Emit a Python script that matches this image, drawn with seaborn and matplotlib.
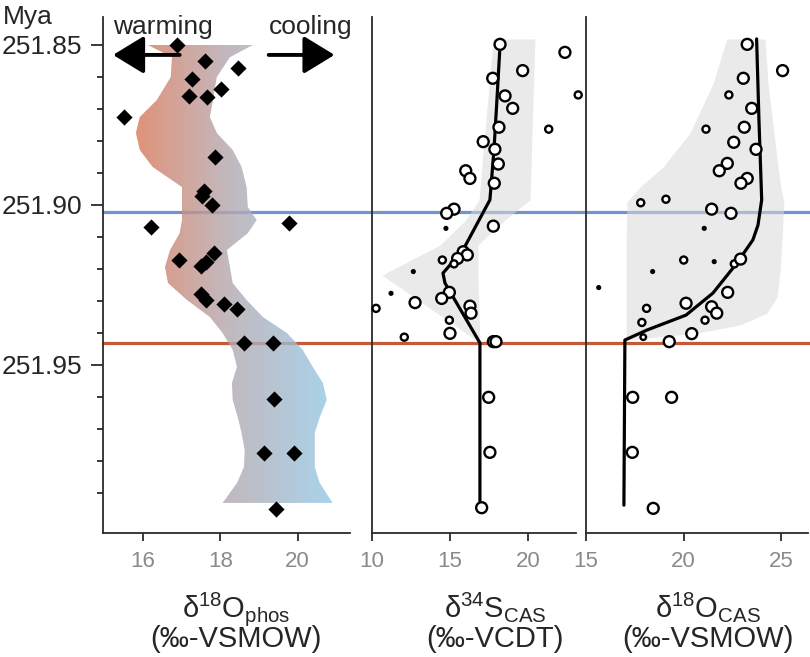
import matplotlib
matplotlib.use("Agg")
import matplotlib.pyplot as plt
import matplotlib.transforms as mtransforms
from matplotlib.colors import LinearSegmentedColormap
import numpy as np
import seaborn as sns

# ---- panel 1: d18O phosphate ----
phos_x = [16.87, 17.60, 18.46, 17.28, 18.01, 17.19, 17.66, 15.51, 17.86, 17.58, 17.53, 17.79,
          16.21, 19.77, 17.84, 16.94, 17.50, 17.63, 17.51, 17.62, 18.10, 18.43, 18.61, 19.35,
          19.39, 19.13, 19.90, 19.45]
phos_y = [251.8500, 251.8550, 251.8573, 251.8607, 251.8638, 251.8658, 251.8663, 251.8724,
          251.8851, 251.8956, 251.8972, 251.9000, 251.9070, 251.9057, 251.9149, 251.9172,
          251.9191, 251.9178, 251.9279, 251.9297, 251.9309, 251.9326, 251.9432, 251.9432,
          251.9606, 251.9776, 251.9776, 251.9950]

band1_y = [251.8500, 251.8538, 251.8600, 251.8672, 251.8725, 251.8775, 251.8828, 251.8881,
           251.8944, 251.9006, 251.9047, 251.9088, 251.9141, 251.9194, 251.9244, 251.9297,
           251.9350, 251.9400, 251.9453, 251.9506, 251.9556, 251.9609, 251.9663, 251.9713,
           251.9766, 251.9819, 251.9869, 251.9931]
band1_lo = [16.13, 16.75, 16.72, 16.36, 15.92, 15.82, 15.92, 16.25, 17.01, 17.01, 17.01, 16.95,
            16.70, 16.57, 16.65, 17.14, 17.73, 18.06, 18.32, 18.43, 18.30, 18.32, 18.45, 18.55,
            18.63, 18.61, 18.43, 18.06]
band1_hi = [18.84, 18.25, 17.91, 17.81, 17.73, 17.91, 18.32, 18.55, 18.68, 18.71, 18.94, 18.71,
            18.17, 18.25, 18.32, 18.68, 19.10, 19.72, 20.13, 20.39, 20.65, 20.75, 20.57, 20.44,
            20.44, 20.44, 20.57, 20.90]

# ---- panel 2: d34S CAS ----
s34_x = [18.21, 22.37, 19.66, 17.74, 23.22, 18.53, 19.02, 21.33, 18.14, 17.13, 17.88, 18.10,
         16.01, 16.28, 17.84, 15.26, 14.79, 14.74, 17.78, 15.85, 16.11, 15.49, 14.51, 15.26,
         12.65, 11.22, 14.96, 14.47, 12.76, 10.26, 16.28, 16.35, 14.96, 15.00, 12.07, 17.78,
         17.95, 17.48, 17.56, 17.03]
s34_y = [251.8498, 251.8523, 251.8580, 251.8604, 251.8656, 251.8659, 251.8698, 251.8763,
         251.8757, 251.8802, 251.8826, 251.8872, 251.8893, 251.8917, 251.8932, 251.9013,
         251.9026, 251.9073, 251.9066, 251.9146, 251.9156, 251.9167, 251.9172, 251.9184,
         251.9208, 251.9276, 251.9273, 251.9292, 251.9305, 251.9323, 251.9316, 251.9338,
         251.9360, 251.9401, 251.9413, 251.9427, 251.9427, 251.9601, 251.9773, 251.9946]
s34_size = [3, 3, 3, 3, 2, 3, 3, 2, 3, 3, 3, 3, 3, 3, 3, 3, 3, 0, 3, 3,
            3, 3, 2, 2, 0, 0, 3, 3, 3, 2, 3, 3, 2, 3, 2, 3, 3, 3, 3, 3]

s34_line_x = [18.21, 18.01, 17.82, 17.56, 15.83, 14.55, 14.68, 16.92, 16.92]
s34_line_y = [251.8500, 251.8672, 251.8828, 251.8984, 251.9141, 251.9213, 251.9244, 251.9431, 251.9931]

band2_y = [251.8481, 251.8984, 251.9047, 251.9125, 251.9219, 251.9431]
band2_lo = [17.76, 16.86, 16.00, 14.36, 10.64, 16.92]
band2_hi = [20.45, 20.13, 18.53, 16.79, 16.79, 16.92]

# ---- panel 3: d18O CAS ----
o18_x = [23.25, 25.06, 23.05, 22.31, 23.48, 23.10, 21.14, 22.56, 23.70, 22.23, 21.82, 23.25,
         22.93, 17.80, 19.09, 21.43, 22.42, 21.05, 15.65, 18.41, 20.00, 21.56, 22.59, 22.91,
         22.25, 20.12, 18.10, 21.43, 21.69, 17.86, 21.09, 20.41, 17.93, 19.26, 17.39, 19.38,
         17.37, 18.44]
o18_y = [251.8498, 251.8580, 251.8604, 251.8656, 251.8698, 251.8757, 251.8763, 251.8804,
         251.8826, 251.8870, 251.8893, 251.8917, 251.8932, 251.8993, 251.8982, 251.9013,
         251.9026, 251.9073, 251.9258, 251.9208, 251.9172, 251.9177, 251.9184, 251.9169,
         251.9273, 251.9307, 251.9323, 251.9318, 251.9338, 251.9367, 251.9360, 251.9402,
         251.9413, 251.9427, 251.9601, 251.9601, 251.9773, 251.9948]
o18_size = [3, 3, 3, 2, 3, 3, 2, 3, 3, 3, 3, 3, 3, 2, 2, 3, 3, 0, 0, 0,
            2, 0, 2, 3, 3, 3, 2, 3, 3, 2, 2, 3, 1, 3, 3, 3, 3, 3]

o18_line_x = [23.73, 23.85, 23.99, 23.80, 23.54, 22.73, 21.50, 20.12, 18.11, 16.99, 16.94]
o18_line_y = [251.8481, 251.8734, 251.8984, 251.9063, 251.9109, 251.9181, 251.9275, 251.9344,
              251.9391, 251.9422, 251.9938]

band3_y = [251.8481, 251.8619, 251.8775, 251.8881, 251.8944, 251.8991, 251.9109, 251.9213,
           251.9288, 251.9338, 251.9375, 251.9400, 251.9416, 251.9422]
band3_lo = [22.20, 21.51, 20.32, 18.94, 17.76, 17.10, 17.05, 17.05, 17.05, 17.05, 17.05, 17.05,
            17.05, 17.00]
band3_hi = [24.16, 24.31, 24.62, 24.82, 24.97, 25.13, 25.03, 24.92, 24.77, 24.26, 22.88, 20.68,
            18.12, 17.00]

blue_age = 251.9021
red_age = 251.9430

sns.set_style("ticks")
plt.rcParams['font.family'] = ['Liberation Sans', 'DejaVu Sans']
plt.rcParams['mathtext.fontset'] = 'custom'
plt.rcParams['mathtext.rm'] = 'Liberation Sans'
plt.rcParams['mathtext.it'] = 'Liberation Sans:italic'

W, H = 810, 657
fig = plt.figure(figsize=(8.1, 6.57), dpi=100)
bot = 1 - 533 / H
hgt = (533 - 17) / H
ax1 = fig.add_axes([103 / W, bot, 247 / W, hgt])
ax2 = fig.add_axes([372 / W, bot, 204 / W, hgt])
ax3 = fig.add_axes([586 / W, bot, 222 / W, hgt])

ylim = (252.0025, 251.84125)
spine_col = '#2b2b2b'
blue = '#7393cf'
red = '#c55a3a'

# horizontal event lines, carried over the gaps between panels
for ax, x_end in [(ax1, (372 - 103) / 247), (ax2, (586 - 372) / 204), (ax3, 1.02)]:
    tr = mtransforms.blended_transform_factory(ax.transAxes, ax.transData)
    for yy, col in [(blue_age, blue), (red_age, red)]:
        ax.plot([0, x_end], [yy, yy], color=col, lw=2.3, transform=tr, clip_on=False, zorder=1.5)

# panel 1 gradient band
cmap = LinearSegmentedColormap.from_list('warmcool', ['#dc7350', '#b3a8b0', '#93c9e6'])
grad = np.linspace(0, 1, 256).reshape(1, -1)
poly = ax1.fill_betweenx(band1_y, band1_lo, band1_hi, facecolor='none', edgecolor='none')
im = ax1.imshow(grad, extent=[15.6, 20.9, band1_y[-1], band1_y[0]], aspect='auto', cmap=cmap,
                alpha=0.8, zorder=2)
im.set_clip_path(poly.get_paths()[0], transform=ax1.transData)
sns.scatterplot(x=phos_x, y=phos_y, marker='D', s=68, color='black', linewidth=0, ax=ax1, zorder=4)

# panels 2 and 3
size_map = {0: 4, 1: 16, 2: 26, 3: 62}
for ax, by, blo, bhi, lx, ly, px, py, ps in [
        (ax2, band2_y, band2_lo, band2_hi, s34_line_x, s34_line_y, s34_x, s34_y, s34_size),
        (ax3, band3_y, band3_lo, band3_hi, o18_line_x, o18_line_y, o18_x, o18_y, o18_size)]:
    ax.fill_betweenx(by, blo, bhi, color='#dadada', alpha=0.55, lw=0, zorder=2)
    sns.lineplot(x=lx, y=ly, sort=False, estimator=None, color='black', lw=2.3, ax=ax, zorder=3)
    sns.scatterplot(x=px, y=py, size=ps, sizes=size_map, marker='o', color='white',
                    edgecolor='black', linewidth=1.7, legend=False, ax=ax, zorder=4, clip_on=False)

ax1.set_xlim(14.97, 21.35)
ax2.set_xlim(10.0, 23.08)
ax3.set_xlim(15.0, 26.36)
for ax, ticks in [(ax1, [16, 18, 20]), (ax2, [10, 15, 20]), (ax3, [15, 20, 25])]:
    ax.set_ylim(*ylim)
    ax.set_xticks(ticks)
    ax.set_xticklabels([str(t) for t in ticks])
    for s in ['top', 'right']:
        ax.spines[s].set_visible(False)
    for s in ['left', 'bottom']:
        ax.spines[s].set_color(spine_col)
        ax.spines[s].set_linewidth(1.3)
    ax.tick_params(axis='x', length=6, width=1.3, color=spine_col, labelcolor='#8a8a8a',
                   labelsize=16, pad=7)
    ax.set_xlabel('')
    ax.set_ylabel('')

ax1.set_yticks([251.85, 251.90, 251.95])
ax1.set_yticklabels(['251.85', '251.90', '251.95'])
ax1.set_yticks(np.arange(251.85, 251.995, 0.01), minor=True)
ax1.tick_params(axis='y', which='major', length=9, width=1.3, color=spine_col, labelsize=19, pad=6)
ax1.tick_params(axis='y', which='minor', length=4.5, width=1.3, color=spine_col)
for ax in (ax2, ax3):
    ax.set_yticks([])

# direction annotations
ay = 251.8531
arrow_kw = dict(arrowstyle='-|>,head_length=0.95,head_width=0.58', lw=2.8, color='black',
                mutation_scale=20, shrinkA=0, shrinkB=0)
ax1.annotate('', xy=(15.23, ay), xytext=(16.95, ay), arrowprops=arrow_kw, annotation_clip=False)
ax1.annotate('', xy=(20.95, ay), xytext=(19.25, ay), arrowprops=arrow_kw, annotation_clip=False)
ax1.text(16.52, 251.8444, 'warming', ha='center', va='center', fontsize=19, clip_on=False)
ax1.text(20.34, 251.8444, 'cooling', ha='center', va='center', fontsize=19, clip_on=False)

fig.text(0.003, 1 - 17 / H, 'Mya', ha='left', va='center', fontsize=19)

labels = [(236, 'δ$^{18}$O$_{\\rm phos}$', '(‰-VSMOW)'),
          (495, 'δ$^{34}$S$_{\\rm CAS}$', '(‰-VCDT)'),
          (708, 'δ$^{18}$O$_{\\rm CAS}$', '(‰-VSMOW)')]
for xc, l1, l2 in labels:
    fig.text(xc / W, 1 - 617 / H, l1, ha='center', va='baseline', fontsize=21)
    fig.text(xc / W, 1 - 647 / H, l2, ha='center', va='baseline', fontsize=21)

fig.savefig('out.png', dpi=100)
